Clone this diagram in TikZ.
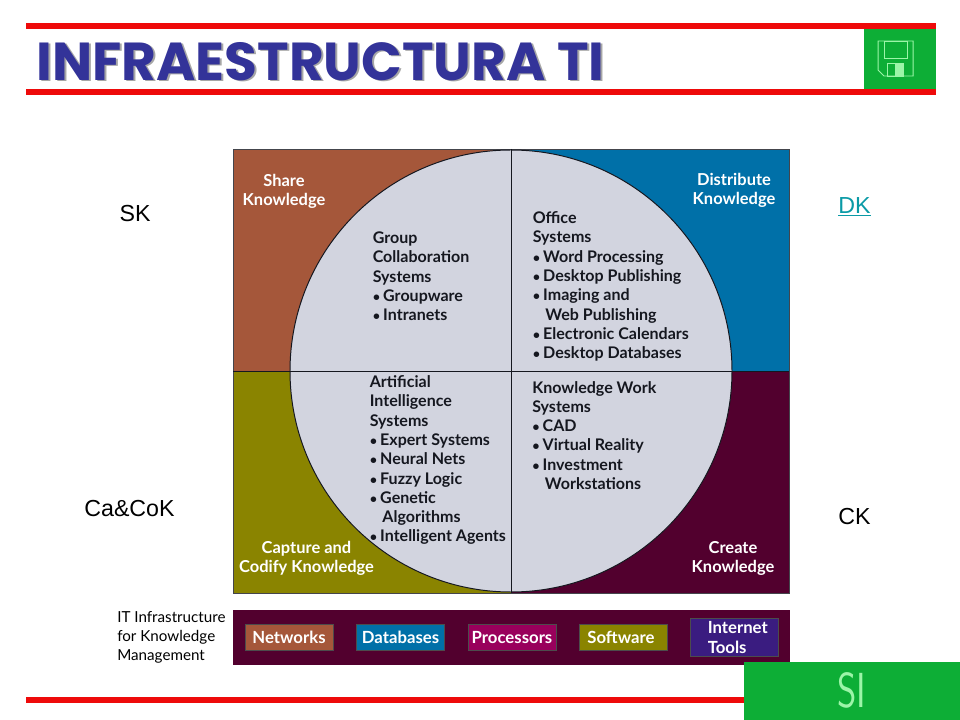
\documentclass[tikz,border=0pt]{standalone}
\usepackage{fontspec}
\setmainfont{Liberation Sans}
\newfontfamily\gillfont{Lato}
\newfontfamily\titlefont{Poppins}
\usetikzlibrary{positioning}
\definecolor{redline}{HTML}{EE0A0A}
\definecolor{slidegreen}{HTML}{0DAE36}
\definecolor{lightgreen}{HTML}{9CF5A8}
\definecolor{titleblue}{HTML}{333399}
\definecolor{shareclr}{HTML}{A5573A}
\definecolor{distclr}{HTML}{0070A8}
\definecolor{captureclr}{HTML}{8A8400}
\definecolor{createclr}{HTML}{52002E}
\definecolor{procclr}{HTML}{99005C}
\definecolor{inetclr}{HTML}{3A1C80}
\definecolor{diskclr}{HTML}{D2D4DF}
\definecolor{inkclr}{HTML}{15171F}
\definecolor{linkclr}{HTML}{0A9AA6}
\newcommand{\bul}{{\fontsize{9}{9}\selectfont•}\hspace{2.2pt}}
\tikzset{
    redbar/.style={fill=redline, draw=none},
    greenbox/.style={fill=slidegreen, draw=none},
    cornertext/.style={text=white, align=center, font=\gillfont\bfseries\fontsize{11.7}{13.7}\selectfont, inner sep=0pt},
    listtext/.style={text=inkclr, align=left, anchor=north west, font=\gillfont\bfseries\fontsize{11.4}{13.7}\selectfont, inner sep=0pt},
    sidetext/.style={text=black, font=\fontsize{16.5}{18}\selectfont, inner sep=0pt},
    tinytext/.style={text=black, align=left, anchor=north west, font=\gillfont\fontsize{10.8}{13.7}\selectfont, inner sep=0pt},
    techbox/.style={draw=black!70, line width=0.5pt, text=white, font=\gillfont\bfseries\fontsize{11.9}{13.7}\selectfont, align=left, inner sep=0pt, minimum width=62.5pt}
}
\begin{document}
\begin{tikzpicture}[x=0.025cm, y=-0.025cm]
    \useasboundingbox (0,0) rectangle (960,720);

    % Frame of the slide
    \fill[redbar] (26,23) rectangle (936,29);
    \fill[redbar] (26,89) rectangle (936,95);
    \fill[greenbox] (864,29) rectangle (936,89);

    % Title
    \node[text=black!35, font=\titlefont\bfseries\fontsize{38}{38}\selectfont, anchor=west, inner sep=0pt] (titleshadow) at (38,63) {INFRAESTRUCTURA TI};
    \node[text=titleblue, font=\titlefont\bfseries\fontsize{38}{38}\selectfont, anchor=west, inner sep=0pt] (title) at (36,61.5) {INFRAESTRUCTURA TI};

    % Disk icon
    \draw[lightgreen, line width=0.7pt] (878,41) -- (913,41) -- (913,76) -- (884,76) -- (878,70) -- cycle;
    \draw[lightgreen, line width=0.7pt] (884,41) rectangle (907,58);
    \draw[lightgreen, line width=0.7pt] (887,63) rectangle (903,76);
    \fill[lightgreen] (895,63) rectangle (903,76);

    % Quadrants
    \fill[shareclr] (233,149) rectangle (511,371);
    \fill[distclr] (511,149) rectangle (789,371);
    \fill[captureclr] (233,371) rectangle (511,593);
    \fill[createclr] (511,371) rectangle (789,593);
    \draw[inkclr!80, line width=0.6pt] (233,149) rectangle (789,593);
    \fill[diskclr, draw=inkclr, line width=0.7pt] (511,371) circle [radius=221];
    \draw[inkclr, line width=0.7pt] (511,149) -- (511,593);
    \draw[inkclr, line width=0.7pt] (233,371) -- (789,371);

    % Corner labels
    \node[cornertext] (share) at (284,191.5) {Share\\Knowledge};
    \node[cornertext] (distribute) at (734,190.5) {Distribute\\Knowledge};
    \node[cornertext] (capture) at (306.5,558.5) {Capture and\\Codify Knowledge};
    \node[cornertext] (create) at (733,558.5) {Create\\Knowledge};

    % Systems
    \node[listtext] (group) at (372.5,231.5) {Group\\Collaboration\\Systems\\\bul Groupware\\\bul Intranets};
    \node[listtext] (office) at (532.5,211.5) {Office\\Systems\\\bul Word Processing\\\bul Desktop Publishing\\\bul Imaging and\\\hspace*{9pt}Web Publishing\\\bul Electronic Calendars\\\bul Desktop Databases};
    \node[listtext] (artificial) at (369.5,375.5) {Artificial\\Intelligence\\Systems\\\bul Expert Systems\\\bul Neural Nets\\\bul Fuzzy Logic\\\bul Genetic\\\hspace*{9pt}Algorithms\\\bul Intelligent Agents};
    \node[listtext] (knowledge) at (532,381) {Knowledge Work\\Systems\\\bul CAD\\\bul Virtual Reality\\\bul Investment\\\hspace*{9pt}Workstations};

    % Side labels
    \node[sidetext] (sk) at (135,214) {SK};
    \node[sidetext, text=linkclr] (dk) at (854.5,207) {\underline{DK}};
    \node[sidetext] (cacok) at (129.5,509) {Ca\&CoK};
    \node[sidetext] (ck) at (854.5,517) {CK};

    % Infrastructure band
    \node[tinytext] (itlabel) at (117,611) {IT Infrastructure\\for Knowledge\\Management};
    \fill[createclr] (233,610) rectangle (790,665);
    \foreach \x/\clr/\name/\txt in {
        289/shareclr/networks/Networks,
        400.5/distclr/databases/Databases,
        512/procclr/processors/Processors,
        623/captureclr/software/Software
    } {
        \node[techbox, fill=\clr, minimum height=18pt, align=center] (\name) at (\x,637.5) {\txt};
    }
    \node[techbox, fill=inetclr, minimum height=27pt, align=left, text width=58pt, inner xsep=2.25pt] (internet) at (734.5,637.5) {\hspace*{10pt}Internet\\\hspace*{10pt}Tools};

    % Bottom of the slide
    \fill[redbar] (26,697) rectangle (744,703);
    \node[greenbox, anchor=north west, minimum width=216*0.025cm, minimum height=58*0.025cm, inner sep=0pt] (sibox) at (744,662) {};
    \node[text=lightgreen, font=\sffamily\fontsize{35}{35}\selectfont, xscale=0.75, inner sep=0pt] (si) at (852,690) {SI};
\end{tikzpicture}
\end{document}
